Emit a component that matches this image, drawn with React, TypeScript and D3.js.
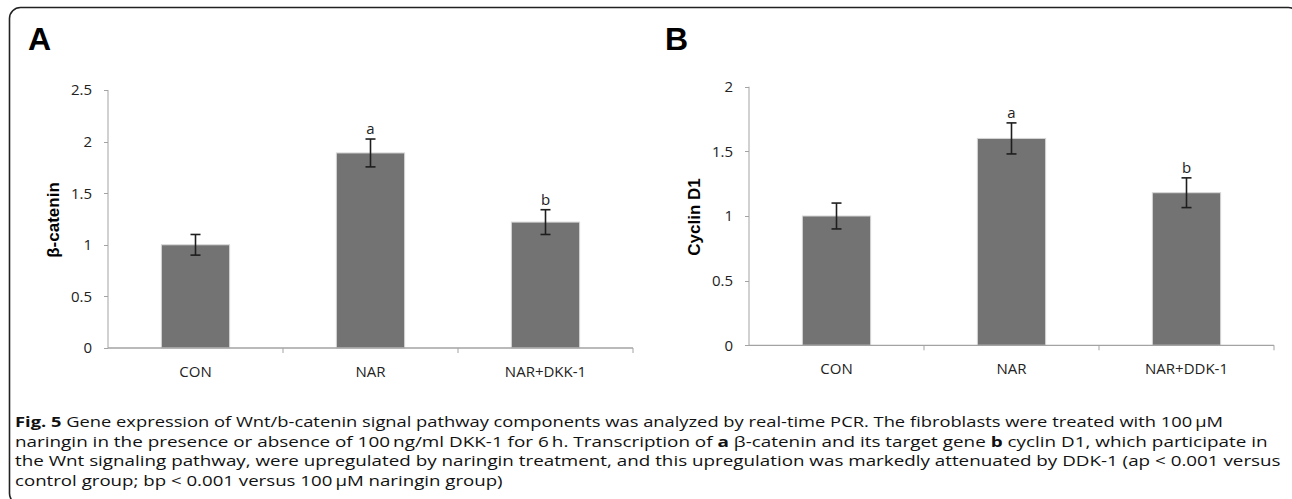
import { useEffect, useRef } from 'react';
import * as d3 from 'd3';

// panel A
const categoriesA = ['CON', 'NAR', 'NAR+DKK-1'];
const valuesA = [1.0, 1.89, 1.22];
const errorsA = [0.1, 0.135, 0.12];
const marksA = ['', 'a', 'b'];
const ticksA = [0, 0.5, 1, 1.5, 2, 2.5];

// panel B
const categoriesB = ['CON', 'NAR', 'NAR+DDK-1'];
const valuesB = [1.0, 1.6, 1.18];
const errorsB = [0.1, 0.12, 0.115];
const marksB = ['', 'a', 'b'];
const ticksB = [0, 0.5, 1, 1.5, 2];

const captionLines: { text: string; bold?: boolean }[][] = [
  [
    { text: 'Fig. 5', bold: true },
    { text: ' Gene expression of Wnt/b-catenin signal pathway components was analyzed by real-time PCR. The fibroblasts were treated with 100\u2009µM' },
  ],
  [
    { text: 'naringin in the presence or absence of 100\u2009ng/ml DKK-1 for 6\u2009h. Transcription of ' },
    { text: 'a', bold: true },
    { text: ' β-catenin and its target gene ' },
    { text: 'b', bold: true },
    { text: ' cyclin D1, which participate in' },
  ],
  [{ text: 'the Wnt signaling pathway, were upregulated by naringin treatment, and this upregulation was markedly attenuated by DDK-1 (ap < 0.001 versus' }],
  [{ text: 'control group; bp < 0.001 versus 100\u2009µM naringin group)' }],
];
// right end of each caption line in the figure
const captionEnds = [1224, 1268, 1282, 503];

const axisColor = '#a3a3a3';
const barColor = '#737373';
const tickFont = '"Open Sans", sans-serif';

type PanelOpts = {
  letter: string;
  letterX: number;
  categories: string[];
  values: number[];
  errors: number[];
  marks: string[];
  ticks: number[];
  yMax: number;
  yLabel: string;
  left: number;
  right: number;
  top: number;
  bottom: number;
};

function drawPanel(svg: d3.Selection<SVGSVGElement, unknown, null, undefined>, o: PanelOpts) {
  const g = svg.append('g');

  g.append('text')
    .attr('x', o.letterX)
    .attr('y', 50)
    .style('font-family', '"Liberation Sans", Arial, sans-serif')
    .style('font-weight', 'bold')
    .style('font-size', '32px')
    .text(o.letter);

  const x = d3.scaleBand().domain(o.categories).range([o.left, o.right]).padding(0);
  const y = d3.scaleLinear().domain([0, o.yMax]).range([o.bottom, o.top]);
  const bw = x.bandwidth() * 0.39;

  // y axis
  g.append('line')
    .attr('x1', o.left).attr('x2', o.left)
    .attr('y1', y(o.yMax)).attr('y2', y(0))
    .attr('stroke', axisColor);
  o.ticks.forEach(t => {
    g.append('line')
      .attr('x1', o.left - 4).attr('x2', o.left)
      .attr('y1', Math.round(y(t)) + 0.5).attr('y2', Math.round(y(t)) + 0.5)
      .attr('stroke', axisColor);
    g.append('text')
      .attr('x', o.left - 16)
      .attr('y', y(t))
      .attr('dy', '0.36em')
      .attr('text-anchor', 'end')
      .style('font-family', tickFont)
      .style('font-size', '15px')
      .style('fill', '#222')
      .text(String(t));
  });

  // bars
  o.categories.forEach((c, i) => {
    const cx = (x(c) as number) + x.bandwidth() / 2;
    g.append('rect')
      .attr('x', cx - bw / 2)
      .attr('y', y(o.values[i]))
      .attr('width', bw)
      .attr('height', y(0) - y(o.values[i]))
      .attr('fill', barColor)
      .attr('stroke', '#d6d6d6')
      .attr('stroke-width', 1);
  });

  // x axis
  g.append('line')
    .attr('x1', o.left).attr('x2', o.right)
    .attr('y1', y(0)).attr('y2', y(0))
    .attr('stroke', axisColor)
    .attr('stroke-width', 1.3);
  const bounds = [...o.categories.map(c => x(c) as number), o.right];
  bounds.slice(1).forEach(b => {
    g.append('line')
      .attr('x1', b).attr('x2', b)
      .attr('y1', y(0)).attr('y2', y(0) + 5)
      .attr('stroke', axisColor);
  });
  o.categories.forEach(c => {
    g.append('text')
      .attr('x', (x(c) as number) + x.bandwidth() / 2)
      .attr('y', y(0) + 29)
      .attr('text-anchor', 'middle')
      .style('font-family', tickFont)
      .style('font-size', '15px')
      .style('fill', '#222')
      .text(c);
  });

  // error bars + significance letters
  o.categories.forEach((c, i) => {
    const cx = (x(c) as number) + x.bandwidth() / 2;
    const hi = y(o.values[i] + o.errors[i]);
    const lo = y(o.values[i] - o.errors[i]);
    const eb = g.append('g').attr('stroke', '#1e1e1e').attr('stroke-width', 1.6);
    eb.append('line').attr('x1', cx).attr('x2', cx).attr('y1', hi).attr('y2', lo);
    eb.append('line').attr('x1', cx - 5).attr('x2', cx + 5).attr('y1', hi).attr('y2', hi);
    eb.append('line').attr('x1', cx - 5).attr('x2', cx + 5).attr('y1', lo).attr('y2', lo);
    if (o.marks[i]) {
      g.append('text')
        .attr('x', cx)
        .attr('y', hi - 5)
        .attr('text-anchor', 'middle')
        .style('font-family', tickFont)
        .style('font-size', '15px')
        .style('fill', '#222')
        .text(o.marks[i]);
    }
  });

  // y label
  const ly = (y(0) + y(o.yMax)) / 2;
  g.append('text')
    .attr('transform', `translate(${o.left - 55},${ly + 1}) rotate(-90)`)
    .attr('text-anchor', 'middle')
    .attr('dy', '0.35em')
    .style('font-family', '"Liberation Sans", Arial, sans-serif')
    .style('font-weight', 'bold')
    .style('font-size', '17px')
    .text(o.yLabel);
}

export default function App() {
  const svgRef = useRef<SVGSVGElement>(null);

  useEffect(() => {
    if (!svgRef.current) return;
    const svg = d3.select(svgRef.current);
    svg.selectAll('*').remove();

    svg.append('rect')
      .attr('width', 1292).attr('height', 499)
      .attr('fill', '#fff');

    // frame
    svg.append('rect')
      .attr('x', 9.5).attr('y', 7.5)
      .attr('width', 1290).attr('height', 497)
      .attr('rx', 11)
      .attr('fill', 'none')
      .attr('stroke', '#222')
      .attr('stroke-width', 1.6);

    drawPanel(svg, {
      letter: 'A', letterX: 28,
      categories: categoriesA, values: valuesA, errors: errorsA, marks: marksA,
      ticks: ticksA, yMax: 2.5, yLabel: 'β-catenin',
      left: 108, right: 633, top: 90, bottom: 348,
    });

    drawPanel(svg, {
      letter: 'B', letterX: 665,
      categories: categoriesB, values: valuesB, errors: errorsB, marks: marksB,
      ticks: ticksB, yMax: 2, yLabel: 'Cyclin D1',
      left: 749, right: 1274, top: 86.7, bottom: 345.3,
    });

    // caption: the figure's text is stretched wide, so scale each line to its width
    const x0 = 15;
    const baselines = [427, 447, 466.5, 486];
    captionLines.forEach((parts, i) => {
      const t = svg.append('text')
        .attr('x', x0)
        .attr('y', baselines[i])
        .style('font-family', '"Open Sans", sans-serif')
        .style('font-size', '15px')
        .style('fill', '#111');
      parts.forEach(p => {
        t.append('tspan')
          .style('font-weight', p.bold ? 'bold' : 'normal')
          .text(p.text);
      });
      const w = (t.node() as SVGTextElement).getComputedTextLength();
      const k = w > 0 ? (captionEnds[i] - x0) / w : 1;
      t.attr('transform', `translate(${x0},0) scale(${k},1) translate(${-x0},0)`);
    });
  }, []);

  return (
    <svg
      ref={svgRef}
      width={1292}
      height={499}
      style={{ position: 'absolute', left: 0, top: 0, display: 'block' }}
    />
  );
}
